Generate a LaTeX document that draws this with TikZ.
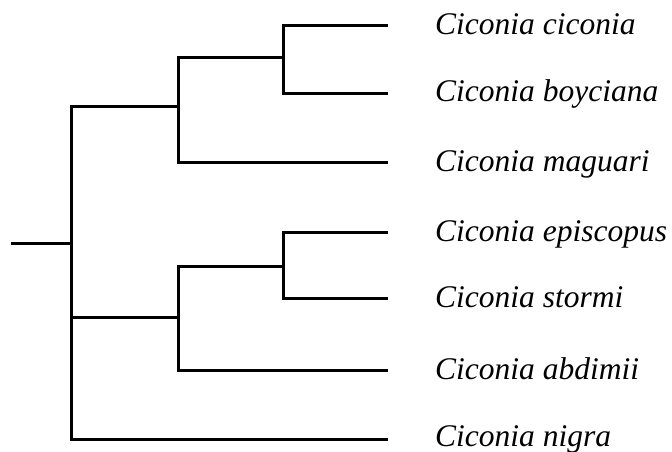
\documentclass[tikz,border=0pt]{standalone}
\usepackage{fontspec}
\setmainfont{Liberation Serif}
\begin{document}
\begin{tikzpicture}[x=1pt,y=-1pt,
    branch/.style={draw=black,line width=3pt},
    taxon/.style={anchor=base west,inner sep=0pt,
      font=\fontsize{31.5}{36}\selectfont\itshape}]
  \useasboundingbox (0,0) rectangle (672,452);

  % internal nodes of the tree
  \coordinate (stem) at (11,243);
  \coordinate (root) at (71,243);
  \coordinate (ca) at (178,106);
  \coordinate (cb) at (283,58);
  \coordinate (cc) at (178,317);
  \coordinate (cd) at (283,266);

  % tips
  \coordinate (t1) at (388,26);
  \coordinate (t2) at (388,93);
  \coordinate (t3) at (388,162);
  \coordinate (t4) at (388,232);
  \coordinate (t5) at (388,298);
  \coordinate (t6) at (388,370);
  \coordinate (t7) at (388,439);

  % species names
  \node[taxon] (l1) at (435,35) {Ciconia ciconia};
  \node[taxon] (l2) at (435,102) {Ciconia boyciana};
  \node[taxon] (l3) at (435,171) {Ciconia maguari};
  \node[taxon] (l4) at (435,241) {Ciconia episcopus};
  \node[taxon] (l5) at (435,307) {Ciconia stormi};
  \node[taxon] (l6) at (435,379) {Ciconia abdimii};
  \node[taxon] (l7) at (435,446) {Ciconia nigra};

  % branches
  \draw[branch] (stem) -- (root);
  \draw[branch] (root) |- (ca);
  \draw[branch] (root) |- (cc);
  \draw[branch] (root) |- (t7);
  \draw[branch] (ca) |- (cb);
  \draw[branch] (ca) |- (t3);
  \draw[branch] (cb) |- (t1);
  \draw[branch] (cb) |- (t2);
  \draw[branch] (cc) |- (cd);
  \draw[branch] (cc) |- (t6);
  \draw[branch] (cd) |- (t4);
  \draw[branch] (cd) |- (t5);
\end{tikzpicture}
\end{document}
